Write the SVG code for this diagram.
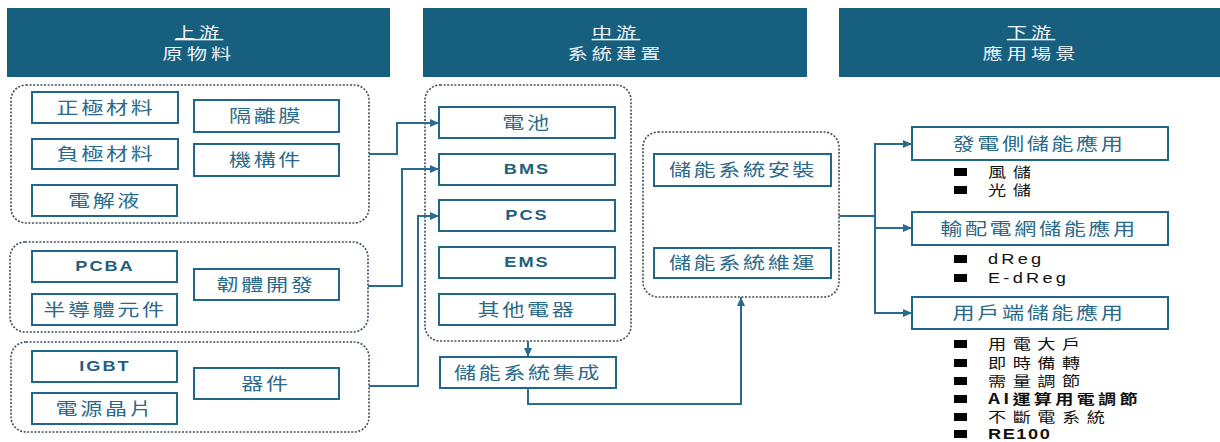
<svg xmlns="http://www.w3.org/2000/svg" width="1220" height="442" viewBox="0 0 1220 442">
<defs>
<style>
text{transform-box:fill-box}
.hdr{fill:#175f7f}
.ht{font-family:"Noto Sans CJK TC","Liberation Sans",sans-serif;font-size:15px;fill:#eef4f7;text-anchor:middle;letter-spacing:3px;transform:scaleX(1.35);transform-origin:center}
.grp{fill:none;stroke:#3f4e5a;stroke-width:1.6;stroke-dasharray:2 1.6}
.box{fill:#fff;stroke:#1f6688;stroke-width:2}
.bt{font-family:"Noto Sans CJK TC","Liberation Sans",sans-serif;font-size:17px;fill:#2a6a8a;text-anchor:middle;letter-spacing:2px;transform:scaleX(1.3);transform-origin:center}
.be{font-family:"Liberation Sans","DejaVu Sans",sans-serif;font-size:14px;font-weight:bold;fill:#1f5f80;text-anchor:middle;letter-spacing:1.5px;transform:scaleX(1.3);transform-origin:center}
.con{fill:none;stroke:#2a6a8c;stroke-width:2}
.li{font-family:"Noto Sans CJK TC","Liberation Sans",sans-serif;font-size:14px;fill:#111;letter-spacing:5px;transform:scaleX(1.3);transform-origin:0% 50%}
.lie{font-family:"Liberation Sans","Noto Sans CJK TC",sans-serif;font-size:14px;fill:#111;letter-spacing:2.5px;transform:scaleX(1.3);transform-origin:0% 50%}
.ai{font-weight:bold;letter-spacing:2.5px}
.re{font-weight:bold;letter-spacing:1.2px}
.bul{fill:#000}
</style>
<marker id="arr" markerUnits="userSpaceOnUse" markerWidth="9" markerHeight="8" refX="9" refY="4" orient="auto">
<path d="M0,0 L9,4 L0,8 z" fill="#2a6a8c"/>
</marker>
</defs>
<rect width="1220" height="442" fill="#fff"/>

<g id="header-upstream">
<rect class="hdr" x="7" y="8" width="383" height="69"/>
<text class="ht" x="199" y="38" text-decoration="underline">上游</text>
<text class="ht" x="199" y="59">原物料</text>
</g>
<g id="header-midstream">
<rect class="hdr" x="423" y="8" width="384" height="69"/>
<text class="ht" x="616" y="38" text-decoration="underline">中游</text>
<text class="ht" x="616" y="59">系統建置</text>
</g>
<g id="header-downstream">
<rect class="hdr" x="839" y="8" width="381" height="69"/>
<text class="ht" x="1031" y="38" text-decoration="underline">下游</text>
<text class="ht" x="1031" y="59">應用場景</text>
</g>

<g id="group-battery-materials">
<rect class="grp" x="11" y="85" width="358" height="138" rx="15"/>
<g id="n-cathode"><rect class="box" x="32" y="92" width="146" height="31"/><text class="bt" x="106" y="114">正極材料</text></g>
<g id="n-anode"><rect class="box" x="32" y="139" width="146" height="30"/><text class="bt" x="106" y="160">負極材料</text></g>
<g id="n-electrolyte"><rect class="box" x="32" y="185" width="145" height="31"/><text class="bt" x="105" y="207">電解液</text></g>
<g id="n-separator"><rect class="box" x="194" y="100" width="145" height="32"/><text class="bt" x="266" y="122">隔離膜</text></g>
<g id="n-structure"><rect class="box" x="194" y="144" width="145" height="32"/><text class="bt" x="266" y="166">機構件</text></g>
</g>

<g id="group-electronics">
<rect class="grp" x="10" y="242" width="358" height="90" rx="15"/>
<g id="n-pcba"><rect class="box" x="32" y="251" width="145" height="31"/><text class="be" x="105" y="271">PCBA</text></g>
<g id="n-semi"><rect class="box" x="32" y="294" width="145" height="31"/><text class="bt" x="105" y="316">半導體元件</text></g>
<g id="n-firmware"><rect class="box" x="194" y="269" width="145" height="31"/><text class="bt" x="266" y="291">韌體開發</text></g>
</g>

<g id="group-devices">
<rect class="grp" x="11" y="342" width="358" height="90" rx="15"/>
<g id="n-igbt"><rect class="box" x="32" y="351" width="145" height="31"/><text class="be" x="105" y="371">IGBT</text></g>
<g id="n-powerchip"><rect class="box" x="32" y="393" width="145" height="31"/><text class="bt" x="105" y="415">電源晶片</text></g>
<g id="n-device"><rect class="box" x="194" y="368" width="145" height="31"/><text class="bt" x="266" y="390">器件</text></g>
</g>

<g id="group-system">
<rect class="grp" x="425" y="85" width="206" height="256" rx="15"/>
<g id="n-battery"><rect class="box" x="439" y="107" width="176" height="31"/><text class="bt" x="527" y="129">電池</text></g>
<g id="n-bms"><rect class="box" x="439" y="154" width="176" height="31"/><text class="be" x="527" y="174">BMS</text></g>
<g id="n-pcs"><rect class="box" x="439" y="200" width="176" height="31"/><text class="be" x="527" y="220">PCS</text></g>
<g id="n-ems"><rect class="box" x="439" y="247" width="176" height="31"/><text class="be" x="527" y="267">EMS</text></g>
<g id="n-other"><rect class="box" x="439" y="294" width="176" height="31"/><text class="bt" x="527" y="316">其他電器</text></g>
</g>

<g id="n-integration"><rect class="box" x="440" y="357" width="176" height="31"/><text class="bt" x="528" y="379">儲能系統集成</text></g>

<g id="group-service">
<rect class="grp" x="643" y="132" width="196" height="165" rx="15"/>
<g id="n-install"><rect class="box" x="654" y="154" width="177" height="32"/><text class="bt" x="743" y="176">儲能系統安裝</text></g>
<g id="n-maint"><rect class="box" x="654" y="248" width="177" height="30"/><text class="bt" x="743" y="269">儲能系統維運</text></g>
</g>

<g id="n-gen">
<rect class="box" x="912" y="127" width="256" height="33"/><text class="bt" x="1039" y="150">發電側儲能應用</text>
<rect class="bul" x="954" y="168" width="13" height="8"/><text class="li" x="988" y="177">風儲</text>
<rect class="bul" x="954" y="186" width="13" height="8"/><text class="li" x="988" y="195">光儲</text>
</g>
<g id="n-grid">
<rect class="box" x="912" y="212" width="256" height="33"/><text class="bt" x="1039" y="235">輸配電網儲能應用</text>
<rect class="bul" x="954" y="255" width="13" height="8"/><text class="lie" x="988" y="264">dReg</text>
<rect class="bul" x="954" y="274" width="13" height="8"/><text class="lie" x="988" y="283">E-dReg</text>
</g>
<g id="n-user">
<rect class="box" x="912" y="297" width="256" height="32"/><text class="bt" x="1039" y="319">用戶端儲能應用</text>
<rect class="bul" x="954" y="340" width="13" height="8"/><text class="li" x="988" y="349">用電大戶</text>
<rect class="bul" x="954" y="359" width="13" height="8"/><text class="li" x="988" y="368">即時備轉</text>
<rect class="bul" x="954" y="377" width="13" height="8"/><text class="li" x="988" y="386">需量調節</text>
<rect class="bul" x="954" y="395" width="13" height="8"/><text class="li ai" x="988" y="404">AI運算用電調節</text>
<rect class="bul" x="954" y="413" width="13" height="8"/><text class="li" x="988" y="422">不斷電系統</text>
<rect class="bul" x="954" y="430" width="13" height="8"/><text class="lie re" x="988" y="439">RE100</text>
</g>

<g id="connectors">
<polyline class="con" points="369,154 397,154 397,123 439,123" marker-end="url(#arr)"/>
<polyline class="con" points="368,286 402,286 402,169 439,169" marker-end="url(#arr)"/>
<polyline class="con" points="369,386 418,386 418,216 439,216" marker-end="url(#arr)"/>
<line class="con" x1="528" y1="341" x2="528" y2="357" marker-end="url(#arr)"/>
<polyline class="con" points="528,388 528,404 741,404 741,297" marker-end="url(#arr)"/>
<line class="con" x1="839" y1="216" x2="875" y2="216"/>
<line class="con" x1="875" y1="143" x2="875" y2="314"/>
<line class="con" x1="874" y1="144" x2="912" y2="144" marker-end="url(#arr)"/>
<line class="con" x1="875" y1="228" x2="912" y2="228" marker-end="url(#arr)"/>
<line class="con" x1="874" y1="313" x2="912" y2="313" marker-end="url(#arr)"/>
</g>
</svg>
